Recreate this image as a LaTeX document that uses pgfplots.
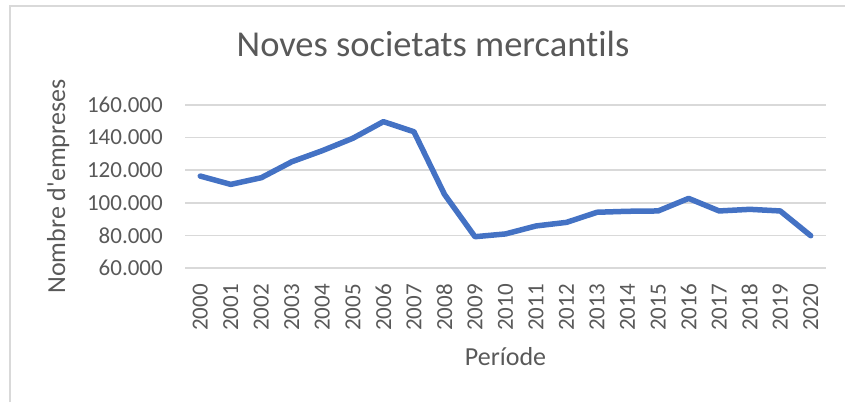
\documentclass[border=0pt]{standalone}
\usepackage{pgfplots}
\pgfplotsset{compat=1.18}
\usepackage{fontspec}
\setmainfont{Carlito}[Ligatures={NoCommon}]
\definecolor{txt}{HTML}{595959}
\definecolor{gridc}{HTML}{D9D9D9}
\definecolor{linec}{HTML}{4472C4}
\begin{document}
\begin{tikzpicture}[x=1pt,y=1pt]
\path[use as bounding box] (0,0) rectangle (845,-402);
\draw[gridc, line width=2pt] (9.5,-402) -- (9.5,-6) -- (845,-6);
\begin{axis}[
  scale only axis, width=641pt, height=163pt,
  anchor=south west, at={(185pt,-268pt)},
  xmin=1999.5, xmax=2020.5, ymin=60000, ymax=160000,
  scaled y ticks=false, scaled x ticks=false,
  axis line style={draw=none},
  major tick length=0pt,
  ymajorgrids, major grid style={gridc, line width=1.6pt},
  xtick={2000,2001,...,2020},
  xticklabels={2000,2001,2002,2003,2004,2005,2006,2007,2008,2009,2010,2011,2012,2013,2014,2015,2016,2017,2018,2019,2020},
  ytick={60000,80000,100000,120000,140000,160000},
  yticklabels={60.000,80.000,100.000,120.000,140.000,160.000},
  ticklabel style={font=\fontsize{23}{23}\selectfont, text=txt, inner sep=0pt},
  xticklabel style={rotate=90, anchor=east},
  xticklabel shift=16pt,
  yticklabel style={anchor=east},
  yticklabel shift=22pt,
  title={Noves societats mercantils},
  title style={at={(axis description cs:0.3869,1.2638)}, anchor=base, inner sep=0pt, font=\fontsize{36.5}{36.5}\selectfont, text=txt},
  xlabel={Període},
  xlabel style={at={(axis description cs:0.5,-0.601)}, anchor=base, inner sep=0pt, font=\fontsize{26}{26}\selectfont, text=txt},
  ylabel={Nombre d\textquotesingle empreses},
  ylabel style={at={(axis description cs:-0.1872,0.5)}, anchor=base, inner sep=0pt, font=\fontsize{26}{26}\selectfont, text=txt},
  clip=false,
]
\addplot[linec, line width=5.5pt, line join=round, line cap=round] coordinates {
(2000,116400) (2001,111300) (2002,115400) (2003,125200) (2004,132000)
(2005,139600) (2006,149800) (2007,143600) (2008,105200) (2009,79200)
(2010,80900) (2011,85800) (2012,88000) (2013,94200) (2014,94800)
(2015,95000) (2016,102700) (2017,95000) (2018,96000) (2019,95000)
(2020,79800)
};
\end{axis}
\end{tikzpicture}
\end{document}
